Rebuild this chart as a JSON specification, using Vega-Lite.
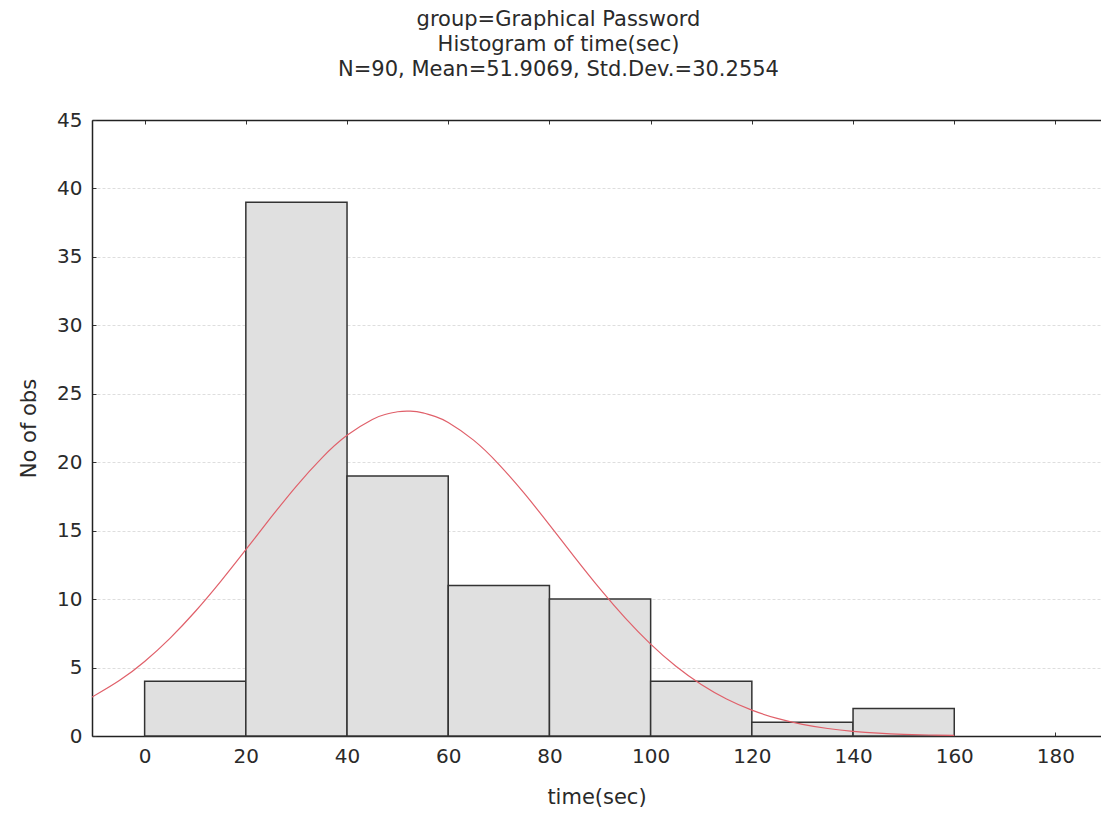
{
  "$schema": "https://vega.github.io/schema/vega-lite/v6.json",
  "width": 1009,
  "height": 616,
  "autosize": {"type": "none"},
  "padding": {"left": 92, "top": 120, "right": 0, "bottom": 86},
  "background": "white",
  "config": {"view": {"stroke": null}, "font": "DejaVu Sans"},
  "title": {
    "text": ["group=Graphical Password", "Histogram of time(sec)", "N=90, Mean=51.9069, Std.Dev.=30.2554"],
    "font": "DejaVu Sans",
    "fontSize": 21,
    "fontWeight": "normal",
    "color": "#2a2a2a",
    "lineHeight": 25,
    "anchor": "middle",
    "dx": -38,
    "offset": 30
  },
  "datasets": {
    "bins": [
      {"bin_start": 0, "bin_end": 20, "count": 4},
      {"bin_start": 20, "bin_end": 40, "count": 39},
      {"bin_start": 40, "bin_end": 60, "count": 19},
      {"bin_start": 60, "bin_end": 80, "count": 11},
      {"bin_start": 80, "bin_end": 100, "count": 10},
      {"bin_start": 100, "bin_end": 120, "count": 4},
      {"bin_start": 120, "bin_end": 140, "count": 1},
      {"bin_start": 140, "bin_end": 160, "count": 2}
    ],
    "curve": [
      {"time": -10.4, "expected": 2.84},
      {"time": -5, "expected": 4.047},
      {"time": 0, "expected": 5.448},
      {"time": 5, "expected": 7.136},
      {"time": 10, "expected": 9.094},
      {"time": 15, "expected": 11.278},
      {"time": 20, "expected": 13.611},
      {"time": 25, "expected": 15.982},
      {"time": 30, "expected": 18.262},
      {"time": 35, "expected": 20.305},
      {"time": 40, "expected": 21.966},
      {"time": 45, "expected": 23.125},
      {"time": 47.5, "expected": 23.485},
      {"time": 50, "expected": 23.688},
      {"time": 52.5, "expected": 23.73},
      {"time": 55, "expected": 23.611},
      {"time": 57.5, "expected": 23.333},
      {"time": 60, "expected": 22.901},
      {"time": 65, "expected": 21.614},
      {"time": 70, "expected": 19.849},
      {"time": 75, "expected": 17.737},
      {"time": 80, "expected": 15.424},
      {"time": 85, "expected": 13.05},
      {"time": 90, "expected": 10.744},
      {"time": 95, "expected": 8.608},
      {"time": 100, "expected": 6.71},
      {"time": 105, "expected": 5.09},
      {"time": 110, "expected": 3.757},
      {"time": 115, "expected": 2.699},
      {"time": 120, "expected": 1.886},
      {"time": 125, "expected": 1.283},
      {"time": 130, "expected": 0.849},
      {"time": 135, "expected": 0.546},
      {"time": 140, "expected": 0.342},
      {"time": 145, "expected": 0.209},
      {"time": 150, "expected": 0.124},
      {"time": 155, "expected": 0.072},
      {"time": 160, "expected": 0.04}
    ]
  },
  "layer": [
    {
      "data": {"name": "bins"},
      "mark": {"type": "rect", "fill": "#e0e0e0", "stroke": "#333333", "strokeWidth": 1.5},
      "encoding": {
        "x": {
          "field": "bin_start",
          "type": "quantitative",
          "scale": {"domain": [-10.4, 189], "nice": false, "zero": false},
          "axis": {
            "orient": "bottom",
            "values": [0, 20, 40, 60, 80, 100, 120, 140, 160, 180],
            "title": "time(sec)",
            "titleFont": "DejaVu Sans",
            "titleFontSize": 21,
            "titleFontWeight": "normal",
            "titleColor": "#2a2a2a",
            "titlePadding": 20,
            "labelFont": "DejaVu Sans",
            "labelFontSize": 20,
            "labelColor": "#2a2a2a",
            "labelPadding": 14,
            "tickSize": -4,
            "tickColor": "#333",
            "domainColor": "#222",
            "domainWidth": 1.5,
            "grid": false
          }
        },
        "x2": {"field": "bin_end"},
        "y": {
          "field": "count",
          "type": "quantitative",
          "scale": {"domain": [0, 45], "nice": false},
          "axis": {
            "values": [0, 5, 10, 15, 20, 25, 30, 35, 40, 45],
            "title": "No of obs",
            "titleFont": "DejaVu Sans",
            "titleFontSize": 21,
            "titleFontWeight": "normal",
            "titleColor": "#2a2a2a",
            "titlePadding": 17,
            "labelFont": "DejaVu Sans",
            "labelFontSize": 20,
            "labelColor": "#2a2a2a",
            "labelPadding": 14,
            "tickSize": -4,
            "tickColor": "#333",
            "domainColor": "#222",
            "domainWidth": 1.5,
            "grid": true,
            "gridColor": "#dedede",
            "gridDash": [3, 2],
            "gridWidth": 1
          }
        },
        "y2": {"datum": 0}
      }
    },
    {
      "data": {"name": "curve"},
      "mark": {"type": "line", "color": "#e0606a", "strokeWidth": 1.2, "interpolate": "natural", "clip": true},
      "encoding": {
        "x": {
          "field": "time",
          "type": "quantitative",
          "axis": {
            "orient": "top",
            "values": [0, 20, 40, 60, 80, 100, 120, 140, 160, 180],
            "title": null,
            "labels": false,
            "tickSize": -4,
            "tickColor": "#333",
            "domainColor": "#222",
            "domainWidth": 1.5,
            "grid": false
          }
        },
        "y": {"field": "expected", "type": "quantitative"}
      }
    }
  ],
  "resolve": {"axis": {"x": "independent"}}
}
